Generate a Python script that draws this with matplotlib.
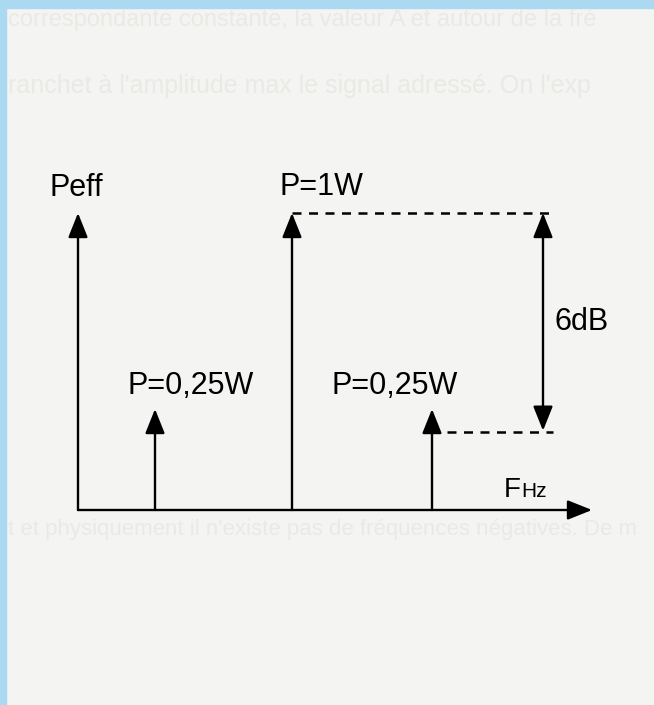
import matplotlib.pyplot as plt
from matplotlib.patches import FancyArrowPatch, Rectangle

plt.rcParams['font.family'] = ['Liberation Sans', 'DejaVu Sans']

# spectrum lines: position on the frequency axis and drawn height (1W line = 1)
freqs = [0.77, 2.14, 3.54]
heights = [0.34, 1.0, 0.34]
labels = ['P=0,25W', 'P=1W', 'P=0,25W']
y_label = 'Peff'
x_label = 'F'
x_unit = 'Hz'
gap_label = '6dB'

W, H = 654, 705
fig = plt.figure(figsize=(W / 100, H / 100), dpi=100)
fig.patch.set_facecolor('#f4f4f2')


def px(x, y):
    # pixel (from top-left) -> figure fraction
    return x / W, 1 - y / H


# scanned page border (light blue)
fig.patches.append(Rectangle((0, 1 - 8 / H), 1, 8 / H, transform=fig.transFigure,
                             color='#aad9f1', zorder=0))
fig.patches.append(Rectangle((0, 0), 6 / W, 1, transform=fig.transFigure,
                             color='#aad9f1', zorder=0))

# faint bleed-through text of the page behind
ghost = '#e9e9e6'
fig.text(*px(8, 20), "correspondante constante, la valeur A et autour de la fré",
         fontsize=17, color=ghost, va='center', fontstretch='condensed')
fig.text(*px(8, 86), "ranchet à l'amplitude max le signal adressé. On l'exp",
         fontsize=18, color=ghost, va='center')
fig.text(*px(8, 530), "t et physiquement il n'existe pas de fréquences négatives. De m",
         fontsize=16, color=ghost, va='center')

# drawing area: y axis at x=78px, x axis at y=510px
x0, y0 = 78, 510
ax = fig.add_axes([x0 / W, (H - y0) / H, (592 - x0) / W, (y0 - 213) / H])
ax.set_xlim(0, 5.14)
ax.set_ylim(0, 1)
ax.axis('off')

lw = 1.7
head = '-|>,head_length=0.75,head_width=0.3'


def arrow(p0, p1, style=head):
    a = FancyArrowPatch(p0, p1, arrowstyle=style, mutation_scale=20, lw=lw,
                        color='black', shrinkA=0, shrinkB=0, clip_on=False)
    ax.add_patch(a)


# axes
arrow((0, 0), (0, 1.0))
arrow((0, 0), (5.14, 0))

# spectral lines
for f, h in zip(freqs, heights):
    arrow((f, 0), (f, h))

# dashed reference lines and 6dB gap
x_gap = 4.65
dash = (0, (3.6, 3.0))
ax.plot([freqs[1], 4.75], [heights[1], heights[1]], ls=dash, lw=1.8,
        color='black', clip_on=False)
low = heights[2] + 0.07
ax.plot([freqs[2] + 0.15, 4.75], [low - 0.148, low - 0.148], ls=dash,
        lw=1.8, color='black', clip_on=False)
arrow((x_gap, low - 0.143), (x_gap, heights[1]),
      style='<|-|>,head_length=0.75,head_width=0.3')

# text
fs = 22
fig.text(*px(49, 188), y_label, fontsize=fs, va='center', ha='left')
fig.text(*px(280, 187), labels[1], fontsize=fs, va='center', ha='left')
fig.text(*px(127, 386), labels[0], fontsize=fs, va='center', ha='left')
fig.text(*px(332, 386), labels[2], fontsize=fs, va='center', ha='left')
fig.text(*px(555, 322), gap_label, fontsize=fs, va='center', ha='left')
fig.text(*px(504, 497), x_label, fontsize=20, va='baseline', ha='left')
fig.text(*px(521, 497), x_unit, fontsize=15, va='baseline', ha='left')

fig.savefig('out.png', dpi=100, facecolor=fig.get_facecolor())
